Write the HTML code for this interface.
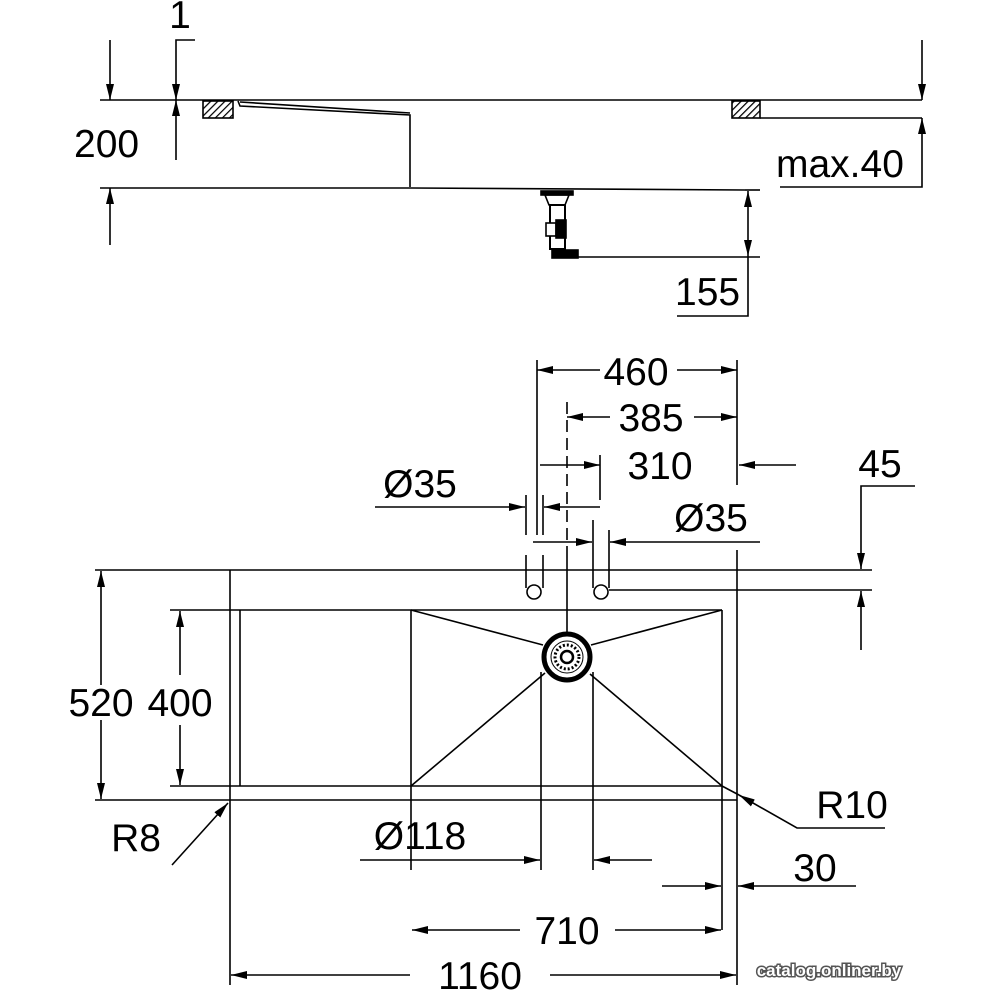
<!DOCTYPE html>
<html><head><style>
html,body{margin:0;padding:0;background:#fff;}
svg{display:block}
text{font-family:"Liberation Sans",sans-serif;font-size:39px;fill:#000}
</style></head><body>
<svg width="1000" height="1000" viewBox="0 0 1000 1000" xmlns="http://www.w3.org/2000/svg">
<defs>
<marker id="a" viewBox="0 0 16 8" refX="16" refY="4" markerWidth="16" markerHeight="8" markerUnits="userSpaceOnUse" orient="auto-start-reverse">
<path d="M0,0 L16,4 L0,8 Z" fill="#000"/></marker>
<pattern id="h" width="5" height="5" patternUnits="userSpaceOnUse" patternTransform="rotate(45)">
<rect width="5" height="5" fill="#fff"/><line x1="0" y1="0" x2="0" y2="5" stroke="#000" stroke-width="2.5"/></pattern>
</defs>
<g stroke="#000" stroke-width="1.6" fill="none">
<!-- TOP VIEW -->
<line x1="100" y1="100" x2="922" y2="100"/>
<line x1="110" y1="40" x2="110" y2="100" marker-end="url(#a)"/>
<line x1="110" y1="245" x2="110" y2="188" marker-end="url(#a)"/>
<polyline points="195,40 176,40 176,100" marker-end="url(#a)"/>
<line x1="176" y1="160" x2="176" y2="100" marker-end="url(#a)"/>
<line x1="100" y1="188" x2="412" y2="188"/>
<polyline points="412,188 745,190"/>
<polyline points="238,101 240,106 410,115 410,187"/>
<line x1="240" y1="102" x2="410" y2="113"/>
<rect x="203" y="101" width="30" height="17" fill="url(#h)"/>
<rect x="732" y="101" width="28" height="17" fill="url(#h)"/>
<line x1="760" y1="118" x2="922" y2="118"/>
<line x1="922" y1="40" x2="922" y2="100" marker-end="url(#a)"/>
<polyline points="780,187 922,187 922,118" marker-end="url(#a)"/>
<line x1="578" y1="257" x2="760" y2="257"/>
<line x1="745" y1="190" x2="760" y2="190"/>
<line x1="748" y1="225" x2="748" y2="191" marker-end="url(#a)"/>
<line x1="748" y1="225" x2="748" y2="256" marker-end="url(#a)"/>
<polyline points="748,256 748,316 677,316"/>
<!-- drain -->
<rect x="541" y="191" width="32" height="4" fill="#000"/>
<path d="M545,195 L569,195 L565,205 L549,205 Z"/>
<rect x="550" y="205" width="15" height="44" fill="#fff" stroke-width="2"/>
<rect x="546" y="223" width="10" height="13" fill="#fff"/>
<rect x="556" y="220" width="10" height="18" fill="#000"/>
<rect x="552" y="250" width="26" height="8" fill="#000"/>
<!-- BOTTOM VIEW -->
<line x1="95" y1="570" x2="872" y2="570"/>
<line x1="95" y1="800" x2="737" y2="800"/>
<line x1="230" y1="570" x2="230" y2="985"/>
<line x1="737" y1="360" x2="737" y2="485"/>
<line x1="737" y1="550" x2="737" y2="985"/>
<line x1="170" y1="610" x2="722" y2="610"/>
<line x1="170" y1="786" x2="722" y2="786"/>
<line x1="240" y1="610" x2="240" y2="786"/>
<line x1="411" y1="610" x2="411" y2="870"/>
<line x1="722" y1="610" x2="722" y2="930"/>
<line x1="411" y1="610" x2="543" y2="645"/>
<line x1="722" y1="610" x2="591" y2="645"/>
<line x1="411" y1="786" x2="545" y2="673"/>
<line x1="722" y1="786" x2="590" y2="674"/>
<line x1="541" y1="672" x2="541" y2="870"/>
<line x1="593" y1="672" x2="593" y2="870"/>
<line x1="567" y1="632" x2="567" y2="558"/>
<line x1="567" y1="558" x2="567" y2="400" stroke-dasharray="12,6"/>
<line x1="537" y1="360" x2="537" y2="535"/>
<circle cx="567" cy="657" r="23" stroke-width="5"/>
<circle cx="567" cy="657" r="16" stroke-width="1"/>
<circle cx="567" cy="657" r="12" stroke-width="3" stroke-dasharray="2,2"/>
<circle cx="567" cy="657" r="6" stroke-width="2.5"/>
<line x1="526" y1="495" x2="526" y2="535"/><line x1="543" y1="495" x2="543" y2="535"/>
<line x1="526" y1="555" x2="526" y2="588"/><line x1="543" y1="555" x2="543" y2="588"/>
<line x1="593" y1="520" x2="593" y2="588"/><line x1="609" y1="530" x2="609" y2="588"/>
<line x1="600" y1="455" x2="600" y2="500"/>
<circle cx="534" cy="592" r="7" fill="#fff"/>
<circle cx="601" cy="592" r="7" fill="#fff"/>
<line x1="609" y1="590" x2="872" y2="590"/>
<!-- dims -->
<line x1="600" y1="370" x2="537" y2="370" marker-end="url(#a)"/>
<line x1="677" y1="370" x2="737" y2="370" marker-end="url(#a)"/>
<line x1="610" y1="417" x2="567" y2="417" marker-end="url(#a)"/>
<line x1="694" y1="417" x2="737" y2="417" marker-end="url(#a)"/>
<line x1="540" y1="465" x2="600" y2="465" marker-end="url(#a)"/>
<line x1="796" y1="465" x2="739" y2="465" marker-end="url(#a)"/>
<line x1="375" y1="507" x2="525" y2="507" marker-end="url(#a)"/>
<line x1="600" y1="507" x2="544" y2="507" marker-end="url(#a)"/>
<line x1="533" y1="542" x2="592" y2="542" marker-end="url(#a)"/>
<line x1="760" y1="542" x2="610" y2="542" marker-end="url(#a)"/>
<polyline points="915,486 861,486 861,569" marker-end="url(#a)"/>
<line x1="861" y1="650" x2="861" y2="591" marker-end="url(#a)"/>
<line x1="101" y1="685" x2="101" y2="571" marker-end="url(#a)"/>
<line x1="101" y1="720" x2="101" y2="799" marker-end="url(#a)"/>
<line x1="180" y1="675" x2="180" y2="611" marker-end="url(#a)"/>
<line x1="180" y1="725" x2="180" y2="785" marker-end="url(#a)"/>
<line x1="172" y1="865" x2="228" y2="803" marker-end="url(#a)"/>
<polyline points="885,828 797,828 739,795" marker-end="url(#a)"/>
<line x1="739" y1="795" x2="722" y2="786"/>
<line x1="360" y1="860" x2="540" y2="860" marker-end="url(#a)"/>
<line x1="652" y1="860" x2="594" y2="860" marker-end="url(#a)"/>
<line x1="662" y1="886" x2="721" y2="886" marker-end="url(#a)"/>
<line x1="856" y1="886" x2="738" y2="886" marker-end="url(#a)"/>
<line x1="520" y1="930" x2="412" y2="930" marker-end="url(#a)"/>
<line x1="615" y1="930" x2="721" y2="930" marker-end="url(#a)"/>
<line x1="410" y1="975" x2="231" y2="975" marker-end="url(#a)"/>
<line x1="550" y1="975" x2="736" y2="975" marker-end="url(#a)"/>
</g>
<text x="180" y="28" text-anchor="middle" font-size="32">1</text>
<text x="74" y="157">200</text>
<text x="776" y="177">max.40</text>
<text x="675" y="305">155</text>
<text x="636" y="385" text-anchor="middle">460</text>
<text x="651" y="431" text-anchor="middle">385</text>
<text x="660" y="479" text-anchor="middle">310</text>
<text x="420" y="497" text-anchor="middle">Ø35</text>
<text x="711" y="531" text-anchor="middle">Ø35</text>
<text x="880" y="477" text-anchor="middle">45</text>
<text x="101" y="716" text-anchor="middle">520</text>
<text x="180" y="716" text-anchor="middle">400</text>
<text x="136" y="851" text-anchor="middle">R8</text>
<text x="852" y="818" text-anchor="middle">R10</text>
<text x="420" y="849" text-anchor="middle">Ø118</text>
<text x="815" y="881" text-anchor="middle">30</text>
<text x="567" y="944" text-anchor="middle">710</text>
<text x="480" y="989" text-anchor="middle">1160</text>
<text x="829" y="976" text-anchor="middle" style="font-size:17px;font-weight:bold;fill:#fff;stroke:#555;stroke-width:3;paint-order:stroke">catalog.onliner.by</text>
</svg>
</body></html>
